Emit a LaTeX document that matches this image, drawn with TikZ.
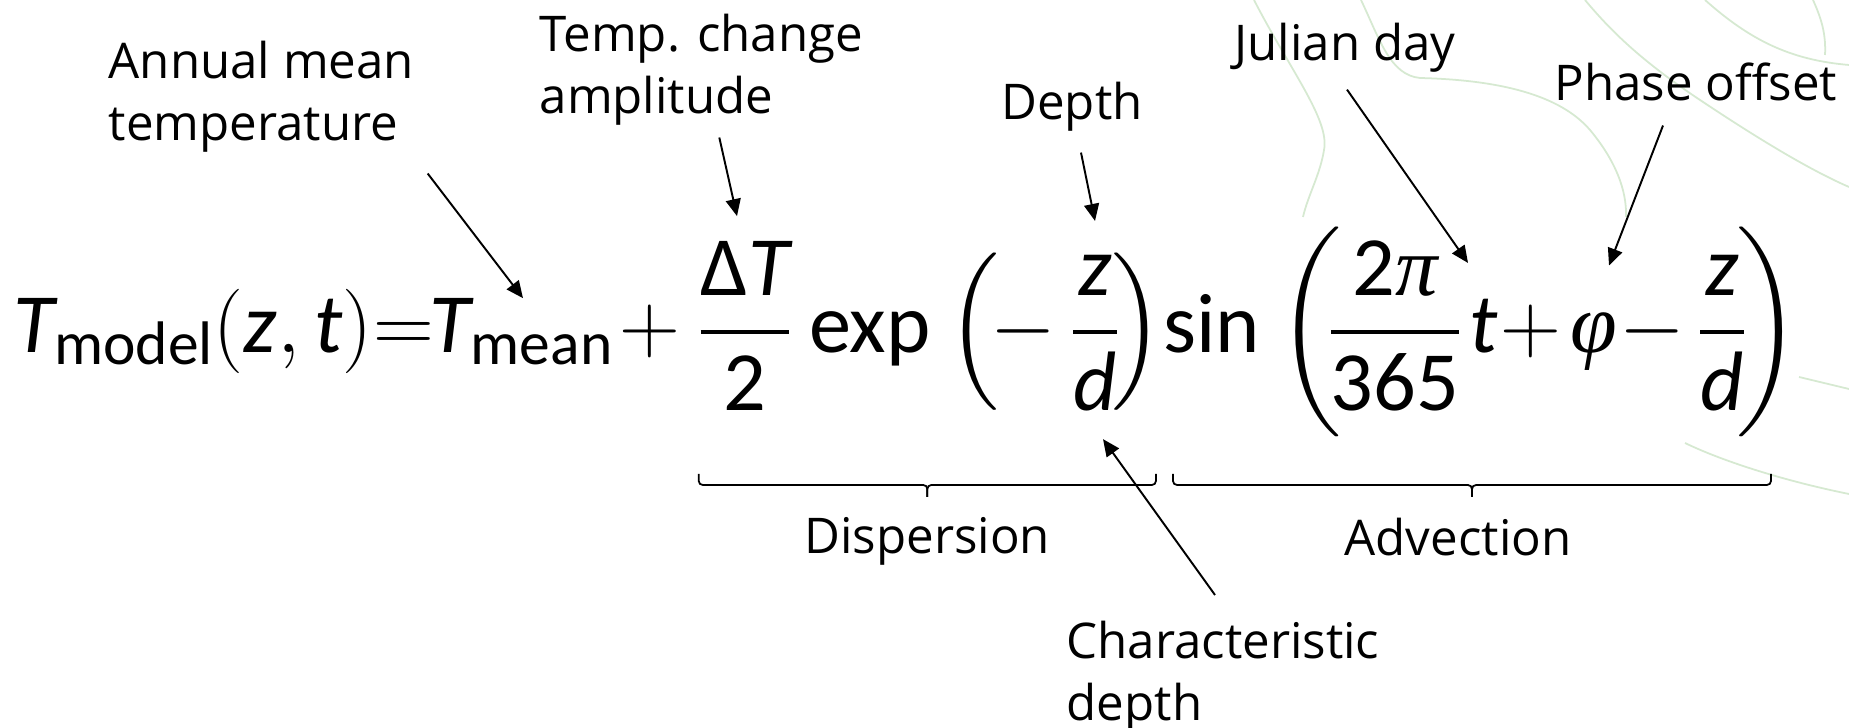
\RequirePackage{fix-cm}
\documentclass[tikz,border=0pt]{standalone}
\usepackage[no-math]{fontspec}
\usepackage{exscale}
\setmainfont{Open Sans}
\newfontfamily\eqfont{Carlito}
\newfontfamily\grkfont{Liberation Serif}
\usetikzlibrary{arrows.meta, positioning, calc}
\definecolor{leafgreen}{RGB}{214,233,209}
\newcommand{\lowsub}[1]{\raisebox{-1.2mm}{\fontsize{17.5}{20}\selectfont #1}}
\newcommand{\eqlpar}[1]{$\left(\vcenter to #1{}\right.$}
\newcommand{\eqrpar}[1]{$\left.\vcenter to #1{}\right)$}

\begin{document}
\begin{tikzpicture}[x=0.1mm, y=-0.1mm,
      eqpart/.style={font=\eqfont\fontsize{24}{29}\selectfont, inner sep=0pt, anchor=base},
      lbl/.style={font=\fontsize{14}{17.9}\selectfont, align=left, inner sep=0pt},
      arr/.style={-{Triangle[length=1.7mm, width=1.5mm]}, line width=0.55pt},
      brc/.style={line width=0.5pt, rounded corners=0.4mm},
      bgcurve/.style={draw=leafgreen, line width=0.5pt}
    ]

    \fill[white] (0,0) rectangle (1849,728);
    \useasboundingbox (0,0) rectangle (1849,728);

    % faint background lines
    \draw[bgcurve] (1254,0) .. controls (1290,70) and (1330,120) .. (1324,150) .. controls (1320,175) and (1308,195) .. (1303,217);
    \draw[bgcurve] (1361,0) .. controls (1380,40) and (1390,75) .. (1420,78) .. controls (1500,80) and (1560,95) .. (1590,130) .. controls (1615,160) and (1627,190) .. (1626,217);
    \draw[bgcurve] (1585,0) .. controls (1610,30) and (1640,60) .. (1700,100) .. controls (1760,140) and (1810,170) .. (1849,187);
    \draw[bgcurve] (1705,0) .. controls (1750,40) and (1790,60) .. (1849,65);
    \draw[bgcurve] (1813,0) .. controls (1822,20) and (1826,35) .. (1825,55);
    \draw[bgcurve] (1685,443) .. controls (1720,460) and (1780,480) .. (1849,494);
    \draw[bgcurve] (1799,377) -- (1849,389);

    % equation, on the baseline y=353
    \node[eqpart] (t-model) at (113,353) {\itshape T\upshape\lowsub{model}};
    \node[eqpart] (t-args) at (293,353) {$(\mbox{\itshape z},\mbox{\itshape t})$};
    \node[eqpart] (eq-sign) at (404,353) {$=$};
    \node[eqpart] (t-mean) at (521,353) {\itshape T\upshape\lowsub{mean}};
    \node[eqpart] (plus-a) at (650,353) {$+$};
    \node[eqpart] (amp-frac) at (745,353) {$\displaystyle\frac{\mbox{Δ\itshape T}}{\mbox{2}}$};
    \node[eqpart] (exp-fn) at (870,353) {exp};
    \node[eqpart] (exp-lpar) at (976,353) {\eqlpar{15mm}};
    \node[eqpart] (exp-minus) at (1023,353) {$-$};
    \node[eqpart] (exp-zd) at (1095,353) {$\displaystyle\frac{\mbox{\itshape z}}{\mbox{\itshape d}}$};
    \node[eqpart] (exp-rpar) at (1135,353) {\eqrpar{15mm}};
    \node[eqpart] (sin-fn) at (1212,353) {sin};
    \node[eqpart] (sin-lpar) at (1312,353) {\eqlpar{19mm}};
    \node[eqpart] (sin-freq) at (1395,353) {$\displaystyle\frac{\mbox{2\grkfont\itshape π}}{\mbox{365}}$};
    \node[eqpart] (sin-t) at (1484,353) {\itshape t};
    \node[eqpart] (sin-plus) at (1531,353) {$+$};
    \node[eqpart] (sin-phi) at (1594,353) {\grkfont\itshape φ};
    \node[eqpart] (sin-minus) at (1652,353) {$-$};
    \node[eqpart] (sin-zd) at (1722,353) {$\displaystyle\frac{\mbox{\itshape z}}{\mbox{\itshape d}}$};
    \node[eqpart] (sin-rpar) at (1767,353) {\eqrpar{19mm}};

    % labels
    \node[lbl, anchor=north west] (l-mean) at (108,40) {Annual mean\\temperature};
    \node[lbl, anchor=north west] (l-amp) at (539,13) {Temp. change\\amplitude};
    \node[lbl, anchor=north] (l-depth) at (1072,81) {Depth};
    \node[lbl, anchor=north] (l-julian) at (1345,22) {Julian day};
    \node[lbl, anchor=north] (l-phase) at (1696,62) {Phase offset};
    \node[lbl, anchor=north west] (l-char) at (1066,620) {Characteristic\\depth};

    \draw[arr] ([shift={(13,20)}]l-mean.south east) -- ([shift={(2,0)}]t-mean.north);
    \draw[arr] ([shift={(18,11)}]l-amp.south) -- ([shift={(-8,-25)}]amp-frac.north);
    \draw[arr] ([shift={(9,21)}]l-depth.south) -- ([shift={(0,-34)}]exp-zd.north);
    \draw[arr] ([shift={(2,17)}]l-julian.south) -- ([shift={(-16,-36)}]sin-t.north);
    \draw[arr] ([shift={(-33,24)}]l-phase.south) -- ([shift={(15,-47)}]sin-phi.north);
    \draw[arr] ([shift={(149,-25)}]l-char.north west) -- ([shift={(8,27)}]exp-zd.south);

    % braces
    \coordinate (brace-top) at (0,474);
    \coordinate (disp-l) at ([xshift=0.3mm]amp-frac.west |- brace-top);
    \coordinate (disp-r) at ([xshift=-0.8mm]exp-rpar.east |- brace-top);
    \coordinate (disp-m) at ($(disp-l)!0.5!(disp-r)+(0,11)$);
    \draw[brc] (disp-l) |- (disp-m) -- ++(0,12);
    \draw[brc] (disp-r) |- (disp-m) -- ++(0,12);
    \node[lbl, below=3.2mm of disp-m] (l-disp) {Dispersion};

    \coordinate (adv-l) at ([xshift=1mm]sin-fn.west |- brace-top);
    \coordinate (adv-r) at ([xshift=-3.1mm]sin-rpar.east |- brace-top);
    \coordinate (adv-m) at ($(adv-l)!0.5!(adv-r)+(0,11)$);
    \draw[brc] (adv-l) |- (adv-m) -- ++(0,12);
    \draw[brc] (adv-r) |- (adv-m) -- ++(0,12);
    \node[lbl, below=3.2mm of adv-m, xshift=-1.4mm] (l-adv) {Advection};
  \end{tikzpicture}
\end{document}
